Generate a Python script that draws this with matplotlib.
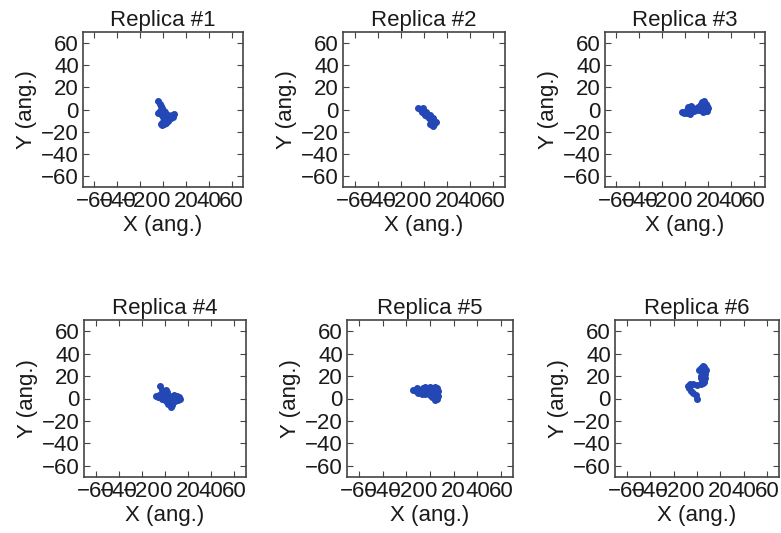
import matplotlib
matplotlib.use("Agg")
import matplotlib.pyplot as plt

plt.rcParams['font.family'] = ['Liberation Sans', 'DejaVu Sans']

titles = ["Replica #1", "Replica #2", "Replica #3", "Replica #4", "Replica #5", "Replica #6"]
ticks = [-60, -40, -20, 0, 20, 40, 60]

r1_x = [-4, -3, -2, -1, -2, -3, -4, -2, 0, 2, 4, 6, 8, 10, 9, 7, 5, 3, 1, 0, -1, -2, -1, 1, 3, 4, 2, 0, -1, -2, 0, 1, 2]
r1_y = [8, 5, 3, 1, 0, -1, -3, -2, -3, -4, -5, -6, -5, -4, -7, -8, -9, -9, -10, -11, -12, -13, -14, -13, -12, -10, -9, -7, -5, -4, -2, -1, -2]

r2_x = [-5, -3, -1, 0, -2, 0, 2, 3, 1, 3, 5, 6, 4, 6, 8, 9, 10, 8, 6, 5, 7, 8, 9, 7, 4, 2, 0]
r2_y = [1, 0, 1, -1, -2, -3, -2, -4, -5, -6, -5, -7, -8, -9, -8, -10, -11, -12, -11, -13, -14, -15, -13, -10, -6, -3, -2]

r3_x = [-3, -1, 1, 2, 4, 5, 4, 3, 5, 7, 8, 10, 11, 12, 13, 14, 15, 16, 17, 18, 19, 20, 19, 17, 15, 14, 16, 18]
r3_y = [-2, -3, -1, -3, -4, -2, 0, 2, 3, 1, -1, 0, 2, 0, 3, 5, 7, 6, 8, 5, 3, 1, -1, 0, 2, 0, -2, -1]

r4_x = [-4, -3, -1, 1, 2, 0, -2, -5, -8, -6, -3, 0, 2, 4, 6, 8, 10, 12, 13, 11, 9, 7, 5, 6, 5, 3, 2, 0, 2]
r4_y = [11, 8, 7, 8, 6, 4, 3, 3, 2, 1, 0, 1, 0, 1, 2, 3, 2, 1, 0, -1, -2, -3, -4, -6, -8, -5, -3, -1, 1]

r5_x = [-14, -11, -8, -6, -4, -2, 0, 2, 4, 6, 7, 5, 3, 5, 7, 6, 4, 2, 0, -2, -4, -6, -9, -12, -10, -7, -4, -1, 1]
r5_y = [8, 9, 7, 9, 10, 8, 10, 9, 10, 9, 7, 6, 4, 3, 2, 0, -1, 1, 3, 5, 4, 6, 7, 7, 5, 4, 6, 6, 5]

r6_x = [0, -1, -3, -5, -7, -8, -6, -3, 0, 3, 5, 6, 4, 3, 5, 4, 2, 3, 5, 6, 7, 8, 7, 6, 7, 6, 4, 3]
r6_y = [0, 3, 5, 7, 9, 11, 13, 13, 12, 13, 14, 16, 18, 20, 22, 24, 25, 27, 29, 28, 26, 25, 22, 20, 18, 15, 16, 18]

series = [(r1_x, r1_y), (r2_x, r2_y), (r3_x, r3_y), (r4_x, r4_y), (r5_x, r5_y), (r6_x, r6_y)]

W, H = 781, 533
fig = plt.figure(figsize=(W / 100, H / 100), dpi=100)
# pixel boxes: left, top, right, bottom
boxes = [
    (83, 32, 243, 187), (343, 32, 505, 187), (605, 32, 765, 187),
    (84, 320, 246, 477), (347, 320, 513, 477), (615, 320, 779, 477),
]
color = '#2347b5'
fs = 16
for i, ((l, t, r, b), (xs, ys), title) in enumerate(zip(boxes, series, titles)):
    ax = fig.add_axes([l / W, 1 - b / H, (r - l) / W, (b - t) / H])
    ax.plot(xs, ys, '-', color=color, lw=1.8, marker='o', ms=4, mec=color, mfc=color)
    ax.set_xlim(-70, 70)
    ax.set_ylim(-70, 70)
    ax.set_xticks(ticks)
    ax.set_yticks(ticks)
    ax.tick_params(direction='in', top=True, right=True, length=4, width=0.8,
                   labelsize=fs, colors='#444444', labelcolor='#1a1a1a', pad=3)
    for s in ax.spines.values():
        s.set_color('#444444')
        s.set_linewidth(1.2)
    ax.set_title(title, fontsize=fs, color='#1a1a1a', pad=4)
    ax.set_xlabel("X (ang.)", fontsize=fs, color='#1a1a1a', labelpad=2)
    ax.set_ylabel("Y (ang.)", fontsize=fs, color='#1a1a1a', labelpad=3)

fig.savefig("out.png", dpi=100)
